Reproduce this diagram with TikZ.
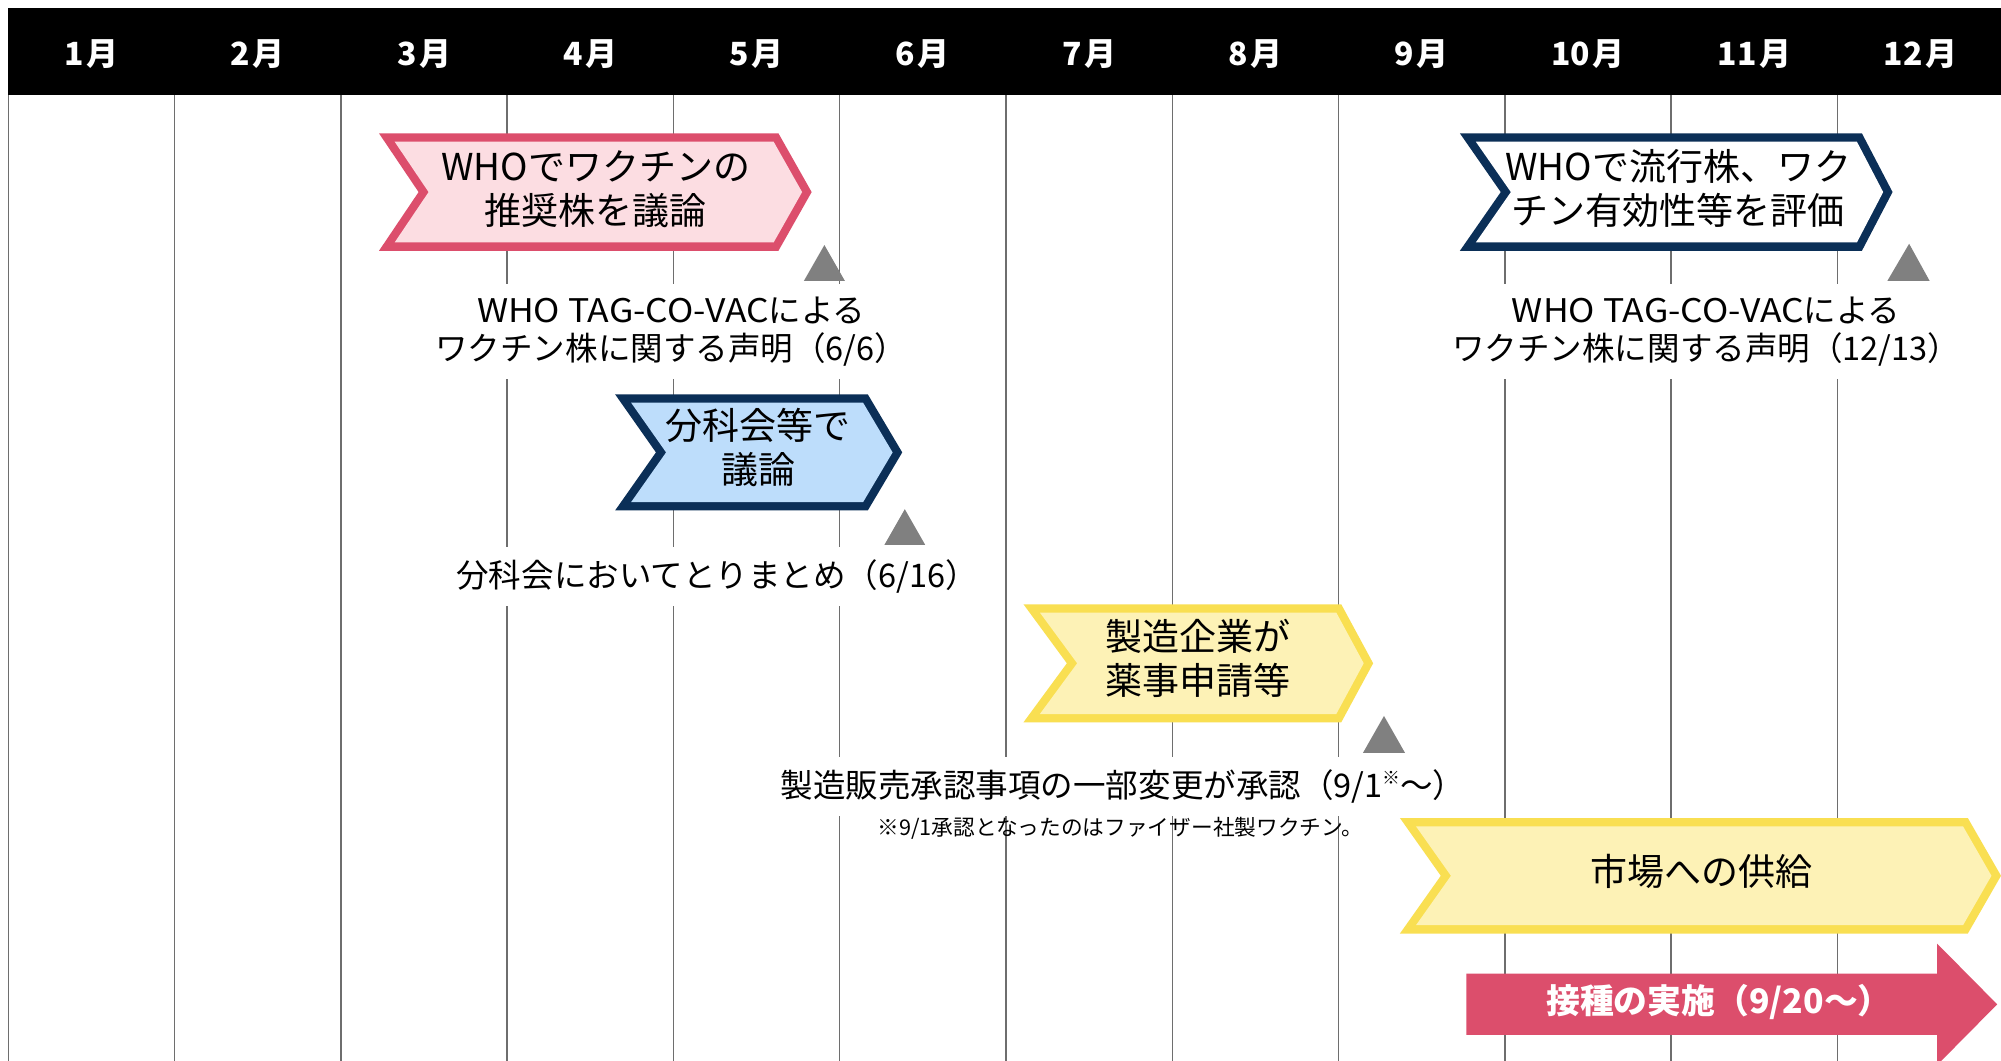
\documentclass[tikz,border=0pt]{standalone}
\usepackage{fontspec}
\usepackage{graphicx}
\setmainfont{Noto Sans CJK JP}
\definecolor{pinkB}{RGB}{220,78,108}
\definecolor{pinkF}{RGB}{252,221,226}
\definecolor{navyB}{RGB}{11,47,87}
\definecolor{blueF}{RGB}{189,221,251}
\definecolor{yelB}{RGB}{249,223,82}
\definecolor{yelF}{RGB}{253,242,182}
\definecolor{triG}{RGB}{128,128,128}
\definecolor{gridG}{RGB}{110,110,110}
\newcommand{\bw}{6.5}
\newcommand{\widelat}[1]{\scalebox{1.09}[1]{#1}}
% #1 L, #2 T, #3 R, #4 B, #5 tip depth, #6 notch depth, #7 border colour, #8 fill colour
\newcommand{\chevshape}[8]{%
  \pgfmathsetmacro\cM{(#2+#4)/2}%
  \pgfmathsetmacro\cH{(#4-#2)/2}%
  \pgfmathsetmacro\cSR{\bw*sqrt(#5*#5+\cH*\cH)/\cH}%
  \pgfmathsetmacro\cSL{\bw*sqrt(#6*#6+\cH*\cH)/\cH}%
  \fill[#7] (#1,#2) -- (#3,#2) -- (#3+#5,\cM) -- (#3,#4) -- (#1,#4) -- (#1+#6,\cM) -- cycle;
  \fill[#8] ({#1+\cSL+\bw*#6/\cH},{#2+\bw}) -- ({#3-\cSR+\bw*#5/\cH},{#2+\bw})
     -- ({#3+#5-\cSR},\cM) -- ({#3-\cSR+\bw*#5/\cH},{#4-\bw})
     -- ({#1+\cSL+\bw*#6/\cH},{#4-\bw}) -- ({#1+#6+\cSL},\cM) -- cycle;
}
\begin{document}
\begin{tikzpicture}[x=1pt,y=-1pt,
  month/.style={text=white,font=\fontsize{25}{25}\selectfont\bfseries,inner sep=0pt},
  chevtext/.style={align=center,font=\fontsize{29}{34.5}\selectfont,inner sep=0pt},
  notetext/.style={align=center,fill=white,font=\fontsize{25.5}{30}\selectfont,inner xsep=3pt,inner ysep=10pt},
  foot/.style={font=\fontsize{17}{17}\selectfont,inner sep=0pt},
  gridline/.style={draw=gridG,line width=1.2pt},
  marker/.style={fill=triG}]
\useasboundingbox (0,0) rectangle (1568,831);
\fill[white] (0,0) rectangle (1568,831);
% grid
\foreach \i in {0,...,11}
  \draw[gridline] ({6.5+130.3*\i},74.5) -- ({6.5+130.3*\i},835);
% header
\fill[black] (6.5,6) rectangle (1570,74.5);
\foreach \m [count=\i from 0] in {1,...,12}
  \node[month] (m\m) at ({6.5+130.3*(\i+0.5)},42) {\m\hspace{0.08em}月};
% chevrons
\chevshape{297}{104.5}{610}{196.5}{26}{31}{pinkB}{pinkF}
\node[chevtext] (who1) at (467,148) {WHOでワクチンの\\推奨株を議論};
\chevshape{1144}{104.5}{1459}{196.5}{24}{32}{navyB}{white}
\node[chevtext] (who2) at (1315,148) {WHOで流行株、ワク\\チン有効性等を評価};
\chevshape{482}{309}{680}{400}{27}{32}{navyB}{blueF}
\node[chevtext] (bunka) at (594,351) {分科会等で\\議論};
\chevshape{802}{473.5}{1051}{566}{25}{34}{yelB}{yelF}
\node[chevtext] (seizo) at (939,516) {製造企業が\\薬事申請等};
\chevshape{1097}{641}{1542}{731.5}{26}{32}{yelB}{yelF}
\node[chevtext] (market) at (1333,683) {市場への供給};
% labels
\node[notetext] (tag1) at (526,260) {\widelat{WHO TAG-CO-VAC}による\\ワクチン株に関する声明（6/6）};
\node[notetext] (tag2) at (1337,260) {\widelat{WHO TAG-CO-VAC}による\\ワクチン株に関する声明（12/13）};
\node[notetext] (matome) at (562,452) {分科会においてとりまとめ（6/16）};
\node[notetext] (shonin) at (880,616) {製造販売承認事項の一部変更が承認（9/1\raisebox{0.38em}{\fontsize{14}{14}\selectfont ※}～）};
\node[foot] (note) at (878,649) {※9/1承認となったのはファイザー社製ワクチン。};
% triangles
\fill[marker] (646,192) -- (662,220) -- (630,220) -- cycle;
\fill[marker] (709,399) -- (725,427) -- (693,427) -- cycle;
\fill[marker] (1084.5,561) -- (1101,590) -- (1068,590) -- cycle;
\fill[marker] (1496,191) -- (1512,220) -- (1479,220) -- cycle;
% vaccination arrow
\fill[pinkB] (1149,763) -- (1518,763) -- (1518,739.5) -- (1565,787) -- (1518,834.5) -- (1518,811) -- (1149,811) -- cycle;
\node[text=white,font=\fontsize{26.5}{26.5}\selectfont\bfseries,inner sep=0pt] (vax) at (1347,785) {接種の実施（9/20～）};
\end{tikzpicture}
\end{document}
